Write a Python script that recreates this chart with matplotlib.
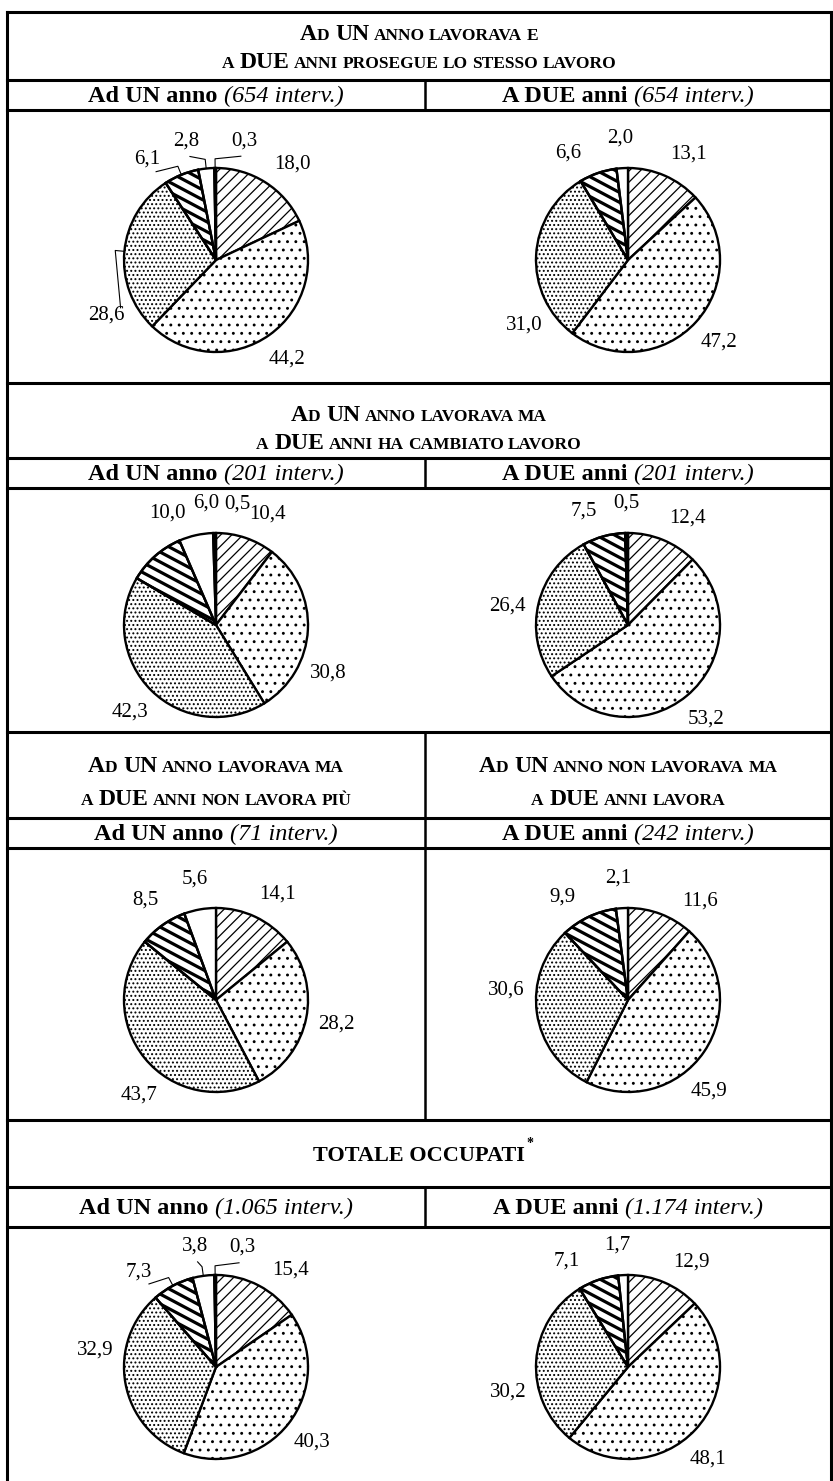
import numpy as np
import matplotlib
matplotlib.use('Agg')
import matplotlib.pyplot as plt
from matplotlib.patches import Wedge
from matplotlib.collections import LineCollection

plt.rcParams['font.family'] = ['Liberation Serif', 'DejaVu Serif']
plt.rcParams['hatch.linewidth'] = 0.9

W, H = 833, 1481

# slice order, clockwise from 12 o'clock (styles kept separately below)
slice_keys = ['diag', 'dots_sparse', 'dots_dense', 'stripes', 'white', 'black']

# values (%) per panel
un_anno_stesso = [18.0, 44.2, 28.6, 6.1, 2.8, 0.3]
due_anni_stesso = [13.1, 47.2, 31.0, 6.6, 2.0, 0.0]
un_anno_cambiato = [10.4, 30.8, 42.3, 10.0, 6.0, 0.5]
due_anni_cambiato = [12.4, 53.2, 26.4, 7.5, 0.0, 0.5]
un_anno_non_piu = [14.1, 28.2, 43.7, 8.5, 5.6, 0.0]
due_anni_ora_lavora = [11.6, 45.9, 30.6, 9.9, 2.1, 0.0]
un_anno_totale = [15.4, 40.3, 32.9, 7.3, 3.8, 0.3]
due_anni_totale = [12.9, 48.1, 30.2, 7.1, 1.7, 0.0]

section_titles = [
    ['Ad UN anno lavorava e', 'a DUE anni prosegue lo stesso lavoro'],
    ['Ad UN anno lavorava ma', 'a DUE anni ha cambiato lavoro'],
    ['Ad UN anno lavorava ma', 'a DUE anni non lavora più'],
    ['Ad UN anno non lavorava ma', 'a DUE anni lavora'],
]
sub_heads = [
    ('Ad UN anno', '(654 interv.)'), ('A DUE anni', '(654 interv.)'),
    ('Ad UN anno', '(201 interv.)'), ('A DUE anni', '(201 interv.)'),
    ('Ad UN anno', '(71 interv.)'), ('A DUE anni', '(242 interv.)'),
    ('Ad UN anno', '(1.065 interv.)'), ('A DUE anni', '(1.174 interv.)'),
]

# label layout tweaks: angle nudge (deg) per slice and which slices get a leader line
label_nudge = [
    [-6, 0, 32, 12, 8, -14],
    [-6, 0, 35, 10, 0, 0],
    [-6, -20, 0, -18, -8, -11],
    [-7, 0, 5, 6, 0, 0],
    [-5, 0, 12, 0, 0, 0],
    [-15, -14, -13, 7, 1, 0],
    [-10, 0, -18, 11, 2, -13],
    [-8, -6, 16, 11, 2, 0],
]
leaders = [[2, 3, 4, 5], [], [], [], [], [], [3, 4, 5], []]

fill = {'diag': 'white', 'dots_sparse': 'white', 'dots_dense': 'white',
        'stripes': 'white', 'white': 'white', 'black': 'black'}
hatch = {'diag': '///', 'dots_sparse': '..', 'dots_dense': '....',
         'stripes': None, 'white': None, 'black': None}

fig = plt.figure(figsize=(W / 100, H / 100), dpi=100)
ax0 = fig.add_axes([0, 0, 1, 1])
ax0.set_xlim(0, W)
ax0.set_ylim(H, 0)
ax0.axis('off')
renderer = fig.canvas.get_renderer()

LW = 2.2
XL, XM, XR = 7, 425, 831

# horizontal rules
rows = [12, 80, 110, 383, 458, 488, 732, 818, 848, 1120, 1187, 1227]
for y in rows:
    ax0.plot([XL, XR], [y, y], color='black', lw=LW, solid_capstyle='projecting')
ax0.plot([XL, XL], [12, H], color='black', lw=LW)
ax0.plot([XR, XR], [12, H], color='black', lw=LW)
# vertical divider
for y0, y1 in [(80, 110), (458, 488), (732, 1120), (1187, 1227)]:
    ax0.plot([XM, XM], [y0, y1], color='black', lw=1.8)


def put_runs(xc, yb, runs):
    # runs: list of (text, size, weight, style, gap_before)
    items = []
    total = 0
    for txt, size, weight, style, gap in runs:
        t = ax0.text(0, yb, txt, fontsize=size, fontweight=weight,
                     fontstyle=style, va='baseline', ha='left')
        w = t.get_window_extent(renderer).width
        g = gap * size * 100 / 72
        items.append((t, w, g))
        total += w + g
    x = xc - total / 2
    for t, w, g in items:
        x += g
        t.set_x(x)
        x += w
    return xc + total / 2


BIG, SMALL = 17, 12.5


def small_caps(xc, yb, s):
    runs = []
    for wi, word in enumerate(s.split(' ')):
        first = True
        cur, cur_big = '', None
        for ch in word:
            big = ch.isupper()
            if cur_big is None or big == cur_big:
                cur += ch.upper()
                cur_big = big
            else:
                runs.append((cur, BIG if cur_big else SMALL, 'bold', 'normal',
                             0.25 if (first and wi > 0) else 0))
                first = False
                cur, cur_big = ch.upper(), big
        runs.append((cur, BIG if cur_big else SMALL, 'bold', 'normal',
                     0.25 if (first and wi > 0) else 0))
    put_runs(xc, yb, runs)


SUB = 17.5


def sub_head(xc, yb, bold, ital):
    put_runs(xc, yb, [(bold, SUB, 'bold', 'normal', 0),
                      (ital, SUB, 'normal', 'italic', 0.25)])


CL, CR, CF = (XL + XM) / 2, (XM + XR) / 2, (XL + XR) / 2
small_caps(CF, 40, section_titles[0][0])
small_caps(CF, 68, section_titles[0][1])
small_caps(CF, 421, section_titles[1][0])
small_caps(CF, 449, section_titles[1][1])
small_caps(CL, 772, section_titles[2][0])
small_caps(CL, 805, section_titles[2][1])
small_caps(CR, 772, section_titles[3][0])
small_caps(CR, 805, section_titles[3][1])
xe = put_runs(CF, 1161, [('TOTALE OCCUPATI', 16, 'bold', 'normal', 0)])
ax0.text(xe + 1, 1147, '*', fontsize=10, fontweight='bold', ha='left', va='baseline')

sub_y = [102, 480, 840, 1214]
for i, (b, it) in enumerate(sub_heads):
    sub_head(CL if i % 2 == 0 else CR, sub_y[i // 2], b, it)

R = 92
panels = [un_anno_stesso, due_anni_stesso, un_anno_cambiato, due_anni_cambiato,
          un_anno_non_piu, due_anni_ora_lavora, un_anno_totale, due_anni_totale]
centers_y = [260, 625, 1000, 1367]


def draw_pie(cx, cy, values, nudge, lead):
    s = 1.7
    ax = fig.add_axes([(cx - s * R) / W, 1 - (cy + s * R) / H, 2 * s * R / W, 2 * s * R / H])
    idx = [i for i, v in enumerate(values) if v > 0]
    vals = [values[i] for i in idx]
    keys = [slice_keys[i] for i in idx]
    wedges, _ = ax.pie(vals, startangle=90, counterclock=False, radius=1,
                       colors=[fill[k] for k in keys],
                       wedgeprops=dict(edgecolor='black', linewidth=1.7))
    ax.set_xlim(-s, s)
    ax.set_ylim(-s, s)
    ax.set_aspect('equal')
    ax.axis('off')
    total = sum(vals)
    cum = 0
    for w, k, v, i in zip(wedges, keys, vals, idx):
        if hatch[k]:
            w.set_hatch(hatch[k])
        if k == 'stripes':
            ang = np.deg2rad(-28)
            d = np.array([np.cos(ang), np.sin(ang)])
            n = np.array([-d[1], d[0]])
            segs = []
            for off in np.arange(-1.2, 1.2, 0.095):
                c = n * off
                segs.append([c - 1.5 * d, c + 1.5 * d])
            lc = LineCollection(segs, colors='black', linewidths=2.3,
                                zorder=w.get_zorder() + 0.1)
            ax.add_collection(lc)
            lc.set_clip_path(w)
            ax.add_patch(Wedge((0, 0), 1, w.theta1, w.theta2, fill=False,
                               edgecolor='black', linewidth=1.7,
                               zorder=w.get_zorder() + 0.2))
        mid = 90 - 360 * (cum + v / 2) / total
        cum += v
        la = np.deg2rad(mid + nudge[i])
        lx, ly = 1.33 * np.cos(la), 1.33 * np.sin(la)
        ax.text(lx, ly, f'{v:.1f}'.replace('.', ','), fontsize=15,
                ha='center', va='center')
        if i in lead:
            m = np.deg2rad(mid)
            p0 = (np.cos(m), np.sin(m))
            p1 = (1.1 * np.cos(m), 1.1 * np.sin(m))
            p2 = (1.16 * np.cos(la), 1.16 * np.sin(la))
            ax.plot([p0[0], p1[0], p2[0]], [p0[1], p1[1], p2[1]], color='black', lw=0.8)


for k, vals in enumerate(panels):
    cx = CL if k % 2 == 0 else CR
    draw_pie(cx, centers_y[k // 2], vals, label_nudge[k], leaders[k])

fig.savefig('out.png', dpi=100)
